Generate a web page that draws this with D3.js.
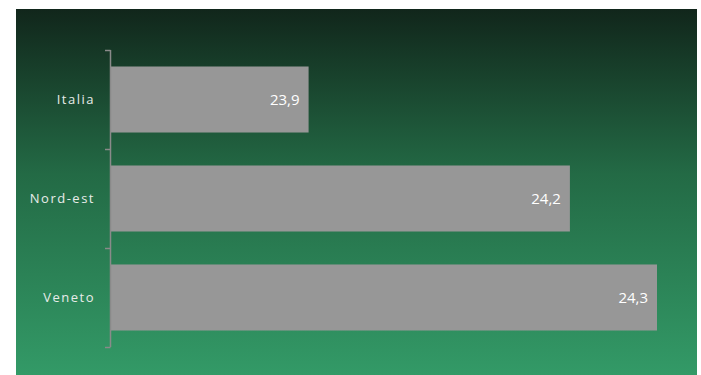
<!DOCTYPE html>
<html>
<head>
<meta charset="utf-8">
<script src="https://cdn.jsdelivr.net/npm/d3@7"></script>
<style>
  html, body { margin: 0; padding: 0; background: #ffffff; }
  svg { display: block; }
  text { font-family: "Open Sans", sans-serif; }
</style>
</head>
<body>
<svg id="chart" width="701" height="375"></svg>
<script>
// Regions and their values (shown with a decimal comma)
const categories = ["Italia", "Nord-est", "Veneto"];
const values = [23.9, 24.2, 24.3];
const valueLabels = ["23,9", "24,2", "24,3"];

const svg = d3.select("#chart");

// Panel with vertical green gradient
const defs = svg.append("defs");
const grad = defs.append("linearGradient")
  .attr("id", "bg").attr("x1", 0).attr("y1", 0).attr("x2", 0).attr("y2", 1);
grad.append("stop").attr("offset", "0%").attr("stop-color", "#11261b");
grad.append("stop").attr("offset", "45%").attr("stop-color", "#236a45");
grad.append("stop").attr("offset", "100%").attr("stop-color", "#339a67");

svg.append("rect")
  .attr("x", 16).attr("y", 9).attr("width", 681).attr("height", 366)
  .attr("fill", "url(#bg)");

// Plot area
const plot = { left: 110, top: 50, bottom: 347 };

const y = d3.scaleBand()
  .domain(categories)
  .range([plot.top, plot.bottom])
  .paddingInner(0.333)
  .paddingOuter(0.1667);

// Value axis does not start at zero
const x = d3.scaleLinear()
  .domain([23.672, 24.3])
  .range([plot.left, plot.left + 547]);

const rows = categories.map((c, i) => ({ c, v: values[i], label: valueLabels[i] }));

svg.append("g").selectAll("rect")
  .data(rows)
  .join("rect")
  .attr("x", plot.left + 1)
  .attr("y", d => y(d.c))
  .attr("width", d => x(d.v) - plot.left - 1)
  .attr("height", y.bandwidth())
  .attr("fill", "#979797");

// Category axis with ticks at band boundaries
const axisG = svg.append("g").attr("transform", `translate(${plot.left},0)`);
const boundaries = categories.map(c => y(c) - y.step() * y.paddingInner() / 2);
boundaries.push(plot.bottom);
axisG.append("line")
  .attr("x1", 0.5).attr("x2", 0.5)
  .attr("y1", plot.top).attr("y2", plot.bottom)
  .attr("stroke", "#8a8a8a").attr("stroke-width", 1.5);
axisG.selectAll("line.tick")
  .data(boundaries)
  .join("line")
  .attr("class", "tick")
  .attr("x1", -5).attr("x2", 0.5)
  .attr("y1", d => Math.round(d) + 0.5).attr("y2", d => Math.round(d) + 0.5)
  .attr("stroke", "#8a8a8a").attr("stroke-width", 1.5);

axisG.selectAll("text")
  .data(categories)
  .join("text")
  .attr("x", -15)
  .attr("y", c => y(c) + y.bandwidth() / 2)
  .attr("dy", "0.35em")
  .attr("text-anchor", "end")
  .attr("fill", "#e8ece9")
  .attr("font-size", 13)
  .attr("letter-spacing", 1.5)
  .text(c => c);

// Value labels inside the bar ends
svg.append("g").selectAll("text")
  .data(rows)
  .join("text")
  .attr("x", d => x(d.v) - 9)
  .attr("y", d => y(d.c) + y.bandwidth() / 2)
  .attr("dy", "0.36em")
  .attr("text-anchor", "end")
  .attr("fill", "#ffffff")
  .attr("font-size", 15)
  .text(d => d.label);
</script>
</body>
</html>
